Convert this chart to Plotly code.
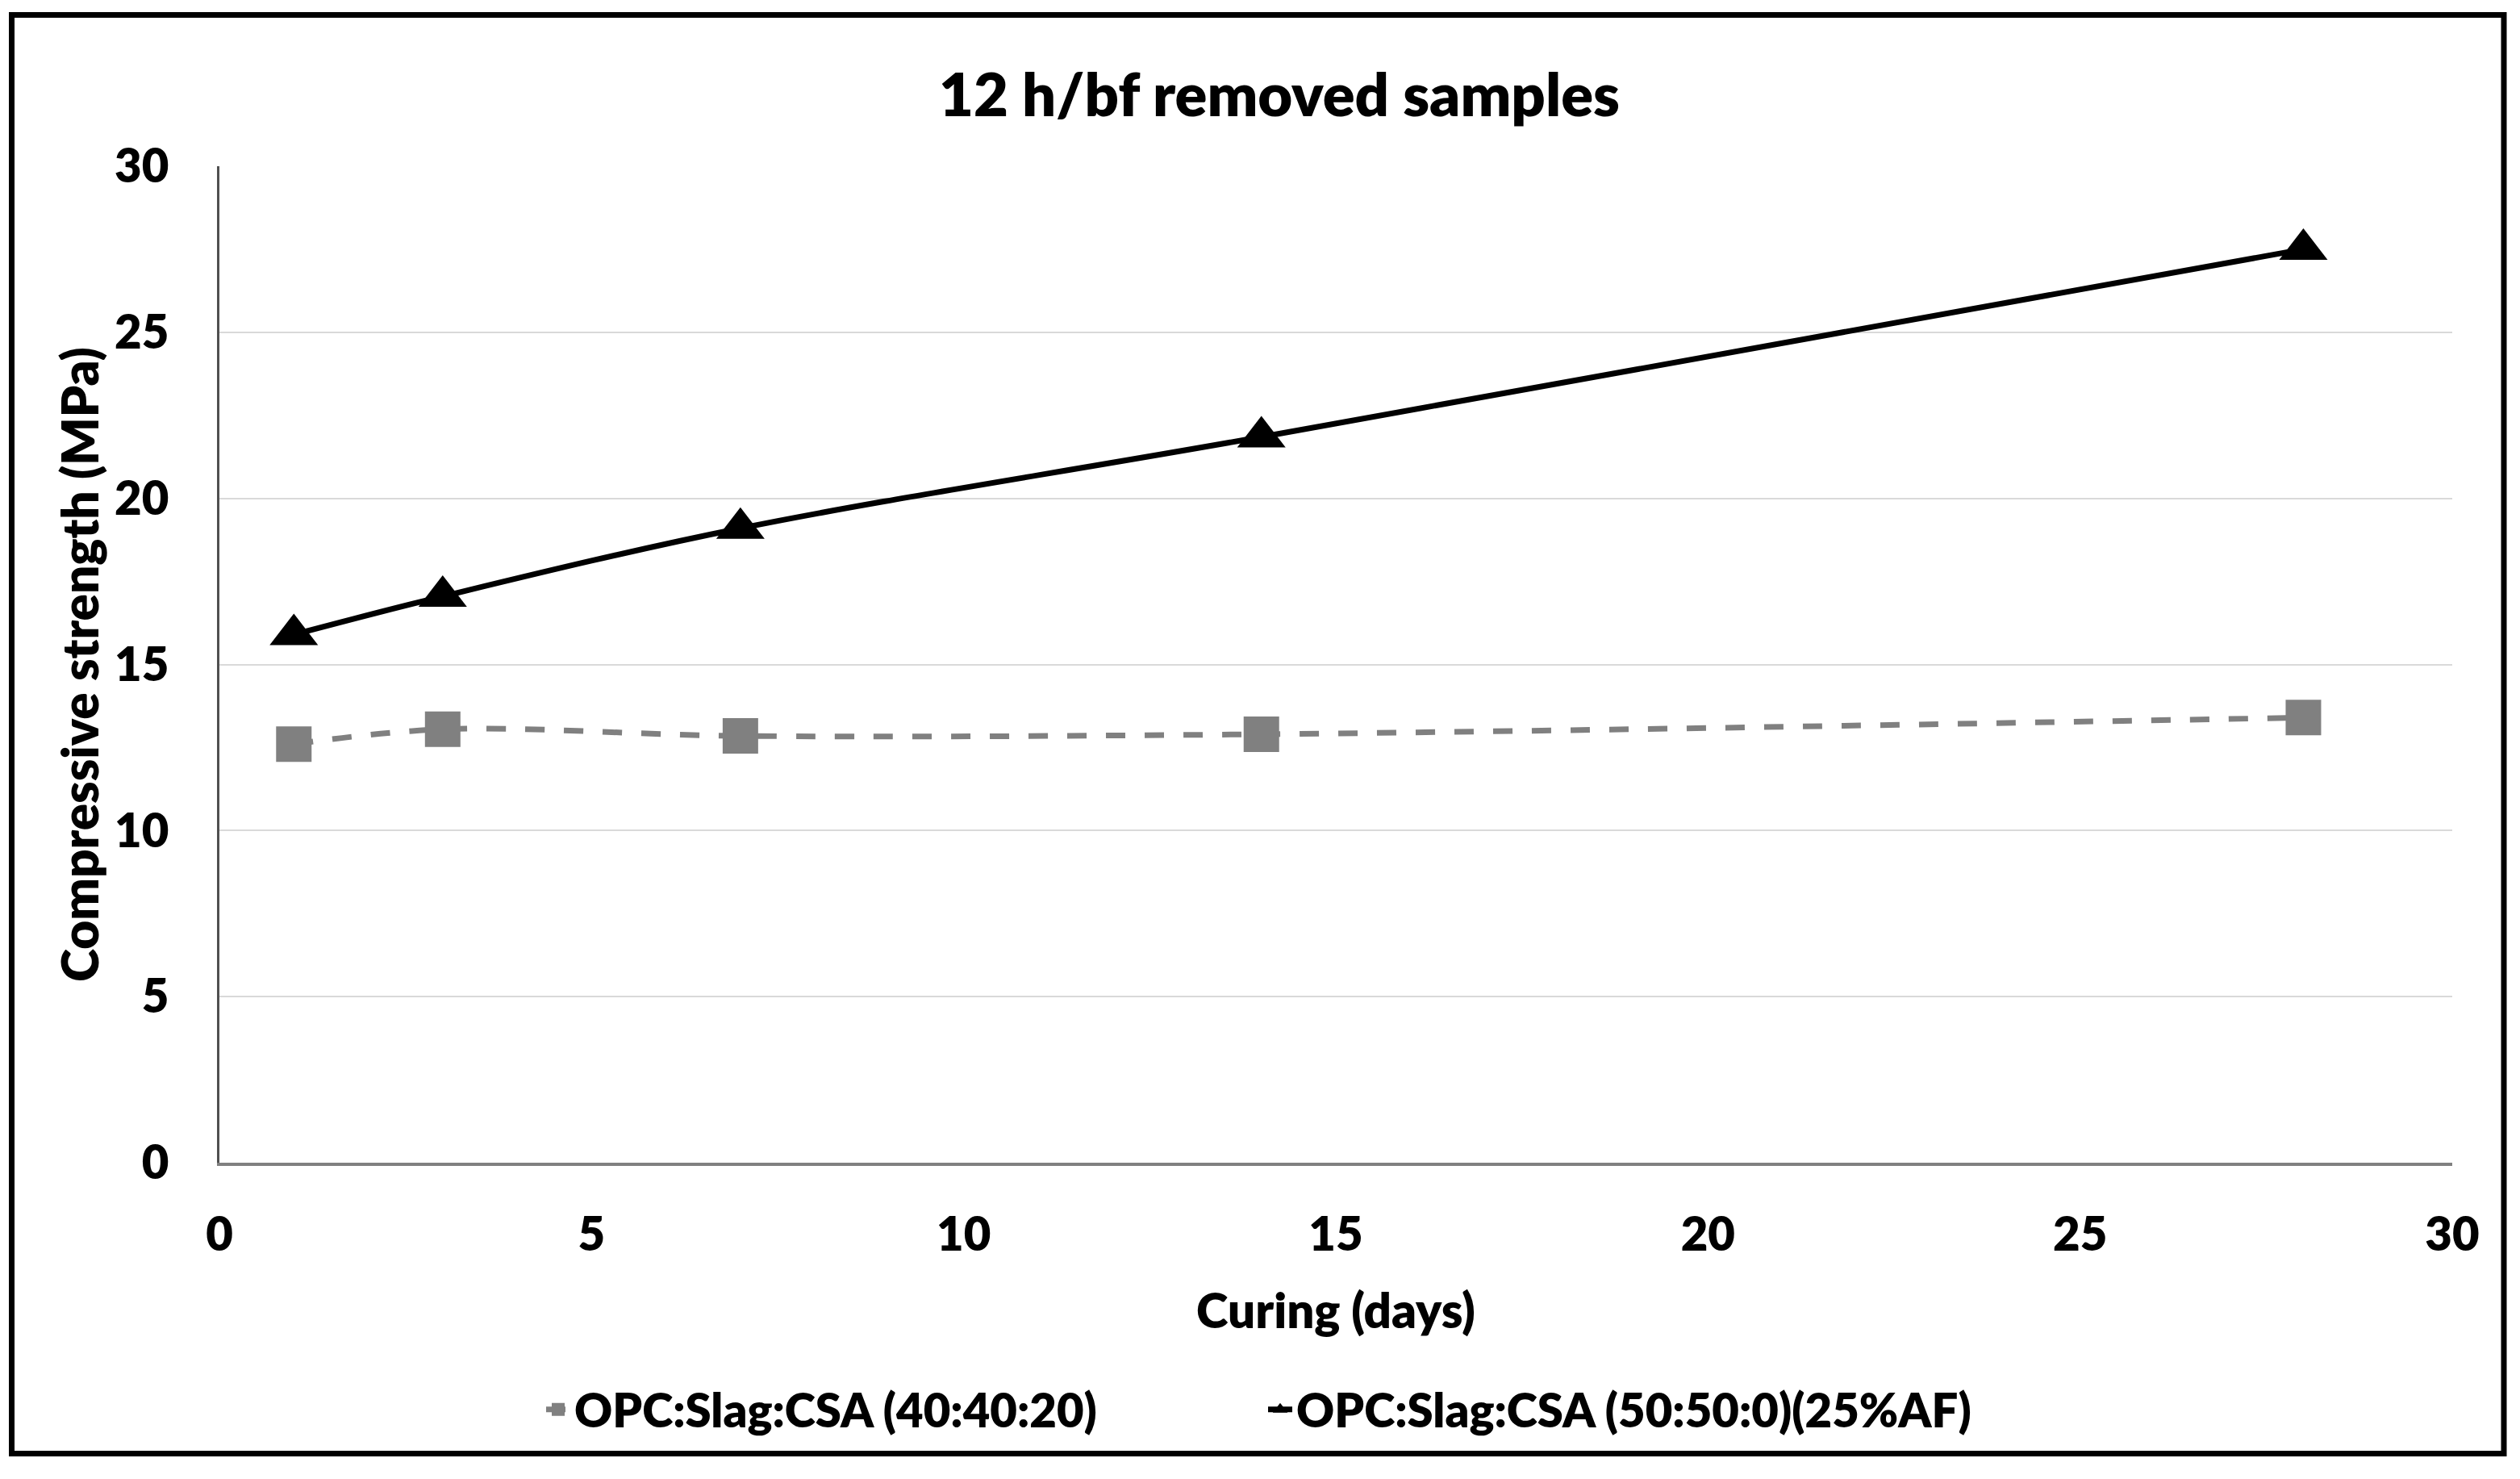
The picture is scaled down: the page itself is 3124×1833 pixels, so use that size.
import plotly.graph_objects as go

days = [1, 3, 7, 14, 28]
series1_name = "OPC:Slag:CSA (40:40:20)"
series1 = [12.6, 13.05, 12.85, 12.9, 13.4]
series2_name = "OPC:Slag:CSA (50:50:0)(25%AF)"
series2 = [15.9, 17.05, 19.1, 21.85, 27.5]
ticks = [0, 5, 10, 15, 20, 25, 30]
title = "12 h/bf removed samples"
x_title = "Curing (days)"
y_title = "Compressive strength (MPa)"

W, H = 3124, 1833
L, R, T, B = 272, 84, 206, 392
FONT = "Lato"
WT = 800

fig = go.Figure()
fig.add_trace(go.Scatter(
    x=days, y=series1, name=series1_name, mode="lines+markers",
    line=dict(color="#808080", width=7, dash="24px,24px", shape="spline"),
    marker=dict(symbol="square", size=44, color="#808080"),
))
fig.add_trace(go.Scatter(
    x=days, y=series2, name=series2_name, mode="lines+markers",
    line=dict(color="#000000", width=7, shape="spline"),
    marker=dict(symbol="triangle-up", size=52, color="#000000"),
))

pw = W - L - R
ph = H - T - B

fig.update_layout(
    width=W, height=H, autosize=False,
    margin=dict(l=L, r=R, t=T, b=B),
    paper_bgcolor="white", plot_bgcolor="white",
    font=dict(family=FONT, size=58, color="#000000", weight=WT),
    title=dict(text=title, x=(1586 - L) / pw, xref="paper", xanchor="center",
               y=1 - 118 / H, yref="container", yanchor="middle",
               font=dict(family=FONT, size=74, color="#000000", weight=WT)),
    xaxis=dict(range=[0, 30], tickvals=ticks, ticktext=[str(t) for t in ticks],
               showgrid=False, zeroline=False, showline=True, linecolor="#808080", linewidth=4,
               ticks="", ticklabelstandoff=35,
               tickfont=dict(family=FONT, size=58, color="#000000", weight=WT),
               title=dict(text=x_title, standoff=44,
                          font=dict(family=FONT, size=60, color="#000000", weight=WT))),
    yaxis=dict(range=[0, 30], tickvals=ticks, ticktext=[str(t) for t in ticks],
               showgrid=True, gridcolor="#d9d9d9", gridwidth=2, zeroline=False,
               showline=True, linecolor="#505050", linewidth=3,
               ticks="", ticklabelstandoff=48,
               tickfont=dict(family=FONT, size=58, color="#000000", weight=WT),
               title=dict(text=y_title, standoff=0,
                          font=dict(family=FONT, size=62, color="#000000", weight=WT))),
    legend=dict(orientation="h", x=(1567 - L) / pw, xanchor="center",
                y=(T + ph - 1747) / ph, yanchor="middle",
                font=dict(family=FONT, size=58, color="#000000", weight=WT),
                entrywidth=850, entrywidthmode="pixels",
                bgcolor="rgba(0,0,0,0)", tracegroupgap=0),
    showlegend=True,
)

# outer black frame around the whole chart
fig.add_shape(type="rect", xref="paper", yref="paper",
              x0=(14.5 - L) / pw, x1=(3104 - L) / pw,
              y0=(T + ph - 1801.5) / ph, y1=(T + ph - 18.5) / ph,
              line=dict(color="#000000", width=7), fillcolor="rgba(0,0,0,0)", layer="above")

fig.write_html("out.html", config={"displayModeBar": False},
               post_script="document.body.style.margin='0';")
